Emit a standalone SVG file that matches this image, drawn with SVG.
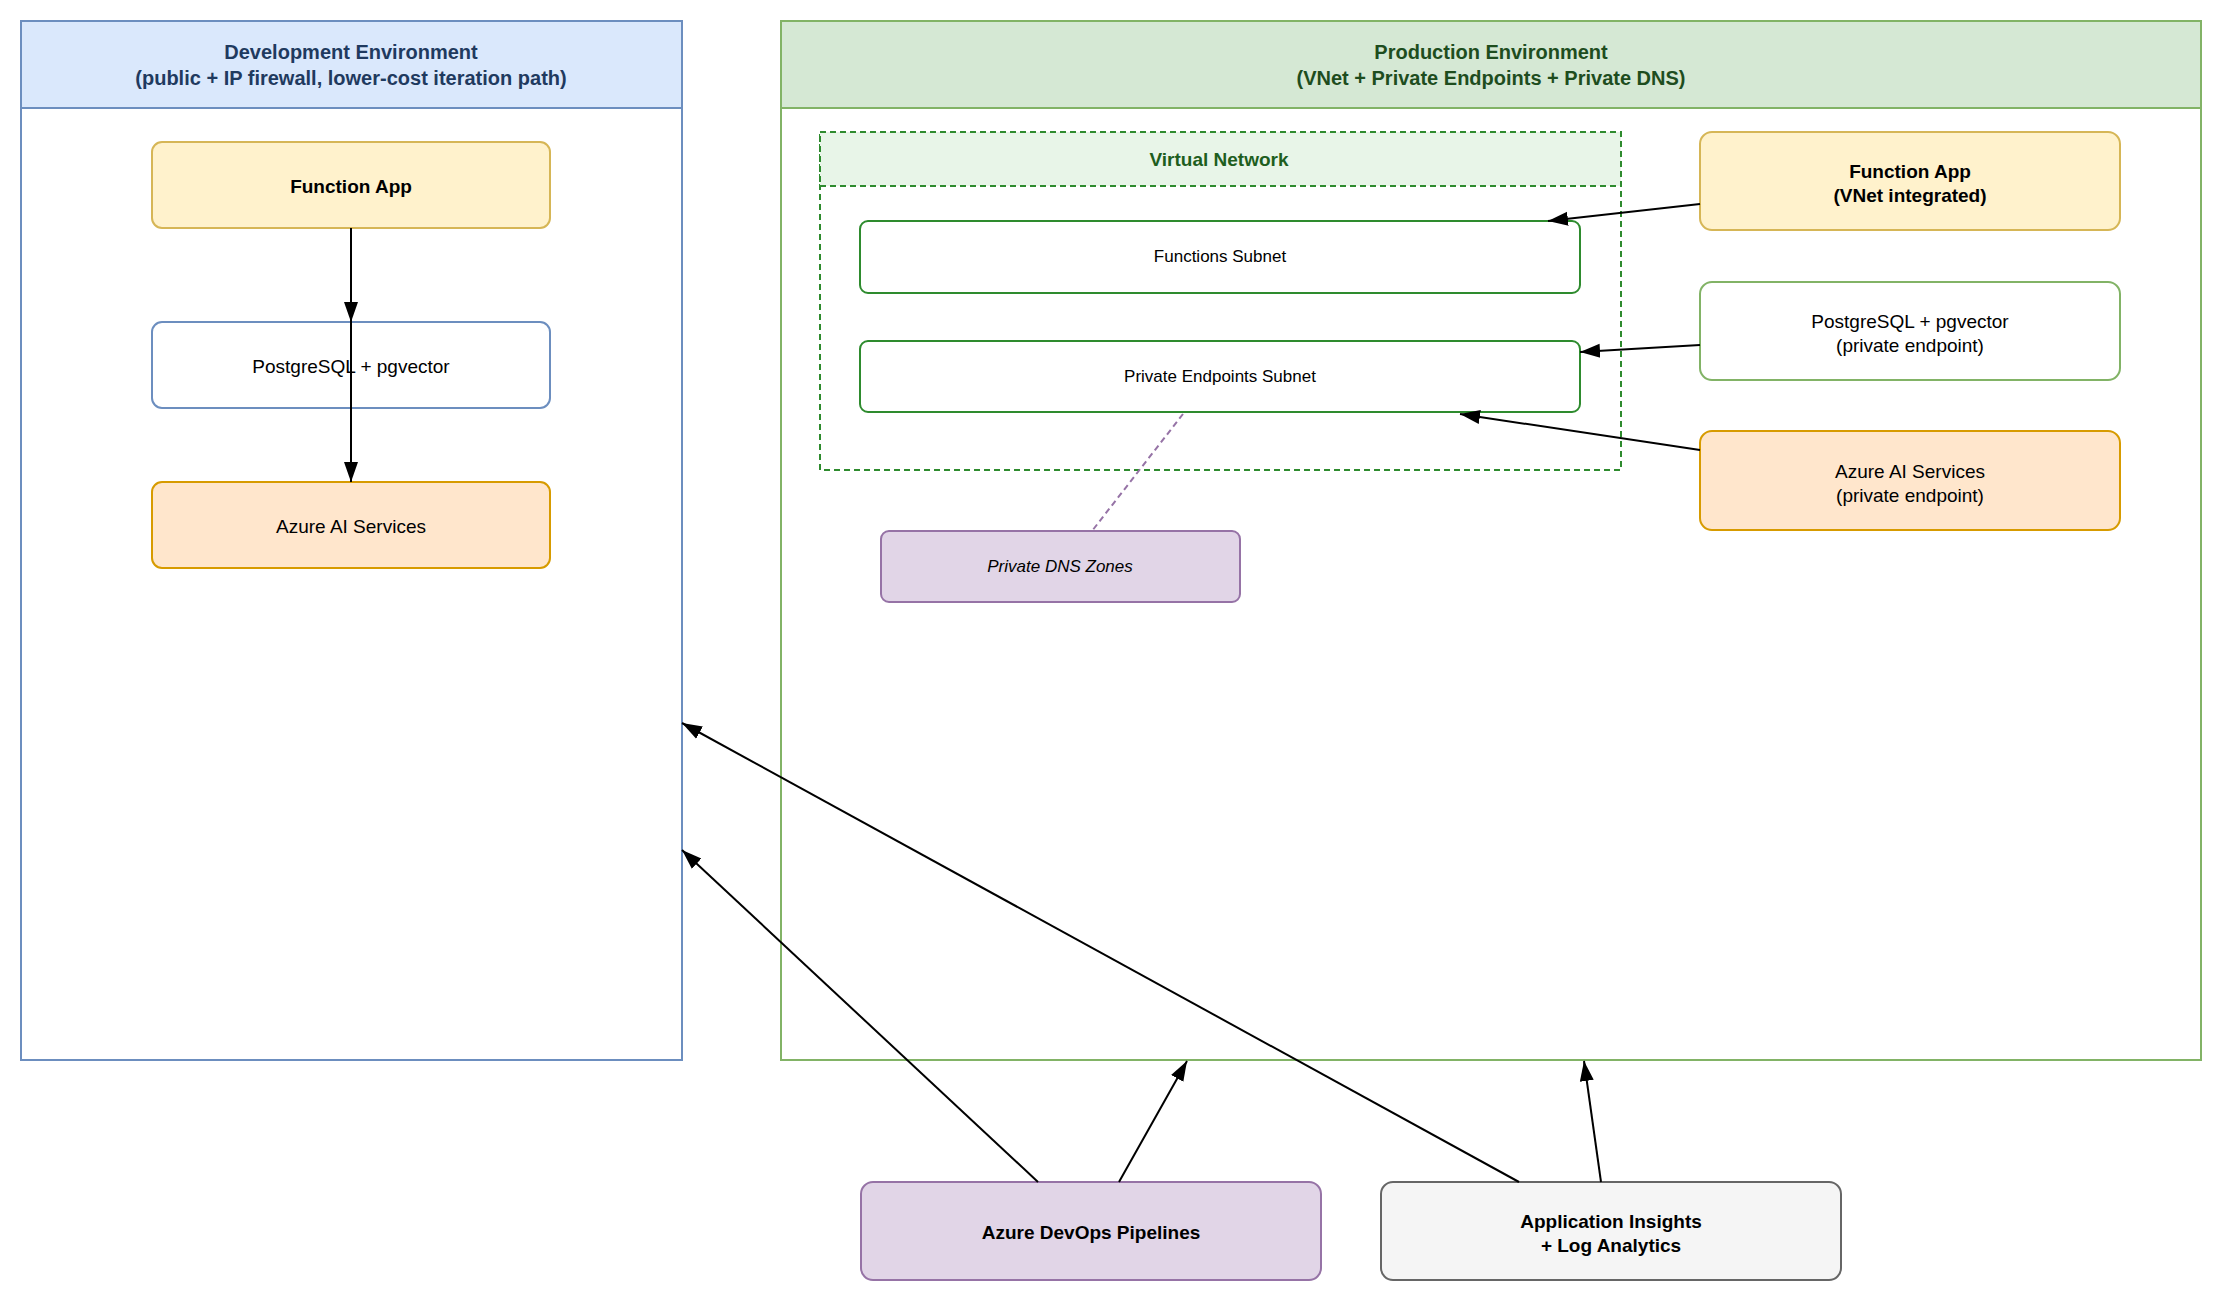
<svg xmlns="http://www.w3.org/2000/svg" width="2222" height="1302" viewBox="0 0 2222 1302">
<style>
text{font-family:"Liberation Sans",Arial,sans-serif;text-anchor:middle;dominant-baseline:central}
.t{font-size:20px;font-weight:bold}
.n{font-size:19px;fill:#000}
.b{font-weight:bold}
.s{font-size:17px}
.e{stroke:#000;stroke-width:2;fill:none}
</style>
<defs><marker id="a" markerWidth="10" markerHeight="10" refX="9" refY="5" orient="auto" markerUnits="userSpaceOnUse"><path d="M0,0L10,5L0,10z" fill="#000" transform="scale(1)"/></marker>
<marker id="ah" viewBox="0 0 10 10" markerWidth="20" markerHeight="20" refX="10" refY="5" orient="auto" markerUnits="userSpaceOnUse"><path d="M0,1.5L10,5L0,8.5z" fill="#000"/></marker></defs>
<rect width="2222" height="1302" fill="#fff"/>
<g id="dev"><rect x="21" y="21" width="661" height="1039" fill="#fff" stroke="#6c8ebf" stroke-width="2"/><rect x="21" y="21" width="661" height="87" fill="#dae8fc" stroke="#6c8ebf" stroke-width="2"/>
<text class="t" x="351" y="52" fill="#1f3a5f">Development Environment</text><text class="t" x="351" y="78" fill="#1f3a5f">(public + IP firewall, lower-cost iteration path)</text></g>
<g id="prod"><rect x="781" y="21" width="1420" height="1039" fill="#fff" stroke="#82b366" stroke-width="2"/><rect x="781" y="21" width="1420" height="87" fill="#d5e8d4" stroke="#82b366" stroke-width="2"/>
<text class="t" x="1491" y="52" fill="#1e4d1e">Production Environment</text><text class="t" x="1491" y="78" fill="#1e4d1e">(VNet + Private Endpoints + Private DNS)</text></g>
<g id="vnet"><rect x="820" y="132" width="801" height="338" fill="#fff" stroke="#2e8b2e" stroke-width="2" stroke-dasharray="6 4"/><rect x="820" y="132" width="801" height="54" fill="#e8f5e8" stroke="#2e8b2e" stroke-width="2" stroke-dasharray="6 4"/><text x="1219" y="159" font-size="19" font-weight="bold" fill="#1e5e1e">Virtual Network</text></g>
<g id="dfa"><rect x="152" y="142" width="398" height="86" rx="10" fill="#fff2cc" stroke="#d6b656" stroke-width="2"/><text class="n b" x="351" y="186">Function App</text></g>
<g id="dpg"><rect x="152" y="322" width="398" height="86" rx="10" fill="#fff" stroke="#6c8ebf" stroke-width="2"/><text class="n" x="351" y="366">PostgreSQL + pgvector</text></g>
<g id="dai"><rect x="152" y="482" width="398" height="86" rx="10" fill="#ffe6cc" stroke="#d79b00" stroke-width="2"/><text class="n" x="351" y="526">Azure AI Services</text></g>
<g id="fsub"><rect x="860" y="221" width="720" height="72" rx="8" fill="#fff" stroke="#2e8b2e" stroke-width="2"/><text class="n s" x="1220" y="256">Functions Subnet</text></g>
<g id="psub"><rect x="860" y="341" width="720" height="71" rx="8" fill="#fff" stroke="#2e8b2e" stroke-width="2"/><text class="n s" x="1220" y="376">Private Endpoints Subnet</text></g>
<g id="dns"><rect x="881" y="531" width="359" height="71" rx="8" fill="#e1d5e7" stroke="#9673a6" stroke-width="2"/><text class="n s" x="1060" y="566" font-style="italic">Private DNS Zones</text></g>
<g id="pfa"><rect x="1700" y="132" width="420" height="98" rx="12" fill="#fff2cc" stroke="#d6b656" stroke-width="2"/><text class="n b" x="1910" y="171">Function App</text><text class="n b" x="1910" y="195">(VNet integrated)</text></g>
<g id="ppg"><rect x="1700" y="282" width="420" height="98" rx="12" fill="#fff" stroke="#82b366" stroke-width="2"/><text class="n" x="1910" y="321">PostgreSQL + pgvector</text><text class="n" x="1910" y="345">(private endpoint)</text></g>
<g id="pai"><rect x="1700" y="431" width="420" height="99" rx="12" fill="#ffe6cc" stroke="#d79b00" stroke-width="2"/><text class="n" x="1910" y="471">Azure AI Services</text><text class="n" x="1910" y="495">(private endpoint)</text></g>
<g id="devops"><rect x="861" y="1182" width="460" height="98" rx="12" fill="#e1d5e7" stroke="#9673a6" stroke-width="2"/><text class="n b" x="1091" y="1232">Azure DevOps Pipelines</text></g>
<g id="ins"><rect x="1381" y="1182" width="460" height="98" rx="12" fill="#f5f5f5" stroke="#666" stroke-width="2"/><text class="n b" x="1611" y="1221">Application Insights</text><text class="n b" x="1611" y="1245">+ Log Analytics</text></g>
<g id="connectors">
<path class="e" d="M351,228V322" marker-end="url(#ah)"/>
<path class="e" d="M351,228V482" marker-end="url(#ah)"/>
<path class="e" d="M1700,204L1548,221" marker-end="url(#ah)"/>
<path class="e" d="M1700,345L1580,352" marker-end="url(#ah)"/>
<path class="e" d="M1700,450L1460,414" marker-end="url(#ah)"/>
<path d="M1183,414L1092,531" stroke="#9673a6" stroke-width="2" stroke-dasharray="6 4" fill="none"/>
<path class="e" d="M1038,1182L682,850" marker-end="url(#ah)"/>
<path class="e" d="M1119,1182L1187,1061" marker-end="url(#ah)"/>
<path class="e" d="M1519,1182L682,723" marker-end="url(#ah)"/>
<path class="e" d="M1601,1182L1584,1061" marker-end="url(#ah)"/>
</g>
</svg>
